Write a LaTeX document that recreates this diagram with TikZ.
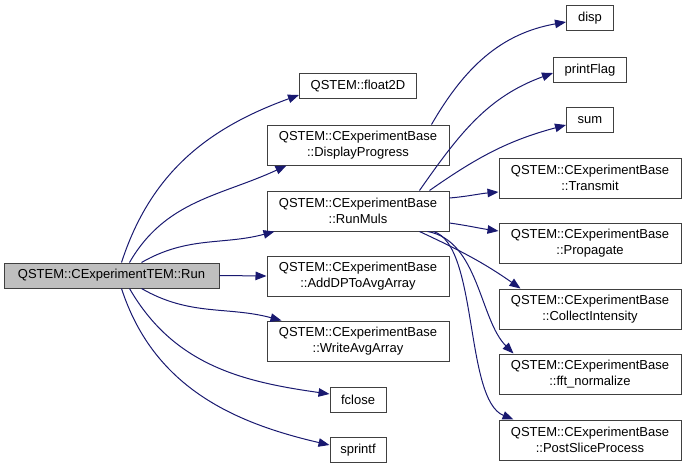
\documentclass[tikz,border=0pt]{standalone}
\usepackage{fontspec}
\setmainfont{Liberation Sans}
\usetikzlibrary{arrows.meta}
\definecolor{edgeblue}{HTML}{191970}
\definecolor{boxline}{HTML}{404040}
\definecolor{runfill}{HTML}{BFBFBF}
\tikzset{
  fn/.style={draw=boxline, line width=1pt, fill=white, inner sep=0pt, align=center,
    font=\fontsize{13}{15.5}\selectfont, minimum height=25pt},
  member/.style={fn, minimum width=182pt, minimum height=40pt},
  call/.style={draw=edgeblue, line width=1pt, -{Triangle[length=11pt,width=8.5pt]}}
}

\begin{document}
\begin{tikzpicture}[x=1pt,y=1pt]
    \useasboundingbox (0,0) rectangle (688,-469);
    % caller
    \node[fn, fill=runfill, minimum width=215pt] (run) at (111.5,-275.5) {QSTEM::CExperimentTEM::Run};
    %% direct callees
    \node[fn, minimum width=117pt] (float2d) at (358,-86) {QSTEM::float2D};
    \node[member] (dispprog) at (358,-145) {QSTEM::CExperimentBase\\::DisplayProgress};
    \node[member] (runmuls) at (358,-211) {QSTEM::CExperimentBase\\::RunMuls};
    \node[member] (adddp) at (358,-276) {QSTEM::CExperimentBase\\::AddDPToAvgArray};
    \node[member] (writeavg) at (358,-341) {QSTEM::CExperimentBase\\::WriteAvgArray};
    \node[fn, minimum width=56pt] (fclose) at (358,-400) {fclose};
    \node[fn, minimum width=56pt] (sprintf) at (358,-450) {sprintf};
    %% second level
    \node[fn, minimum width=47pt] (disp) at (590,-18) {disp};
    \node[fn, minimum width=73pt] (printflag) at (590,-70) {printFlag};
    \node[fn, minimum width=47pt] (sum) at (590,-120) {sum};
    \node[member] (transmit) at (590,-178) {QSTEM::CExperimentBase\\::Transmit};
    \node[member] (propagate) at (590,-243) {QSTEM::CExperimentBase\\::Propagate};
    \node[member] (collect) at (590,-309) {QSTEM::CExperimentBase\\::CollectIntensity};
    \node[member] (fftnorm) at (590,-374) {QSTEM::CExperimentBase\\::fft\_normalize};
    \node[member] (postslice) at (590,-440) {QSTEM::CExperimentBase\\::PostSliceProcess};
    %% calls from Run
    \draw[call] ([xshift=10pt]run.north) to[out=72,in=200] ([yshift=-9pt]float2d.west);
    \draw[call] ([xshift=18pt]run.north) to[out=60,in=205] ([xshift=20pt]dispprog.south west);
    \draw[call] ([xshift=30pt]run.north) to[out=30,in=195] ([xshift=8pt]runmuls.south west);
    \draw[call] (run.east) -- (adddp.west);
    \draw[call] ([xshift=30pt]run.south) to[out=-30,in=165] ([xshift=15pt]writeavg.north west);
    \draw[call] ([xshift=18pt]run.south) to[out=-60,in=172] ([yshift=6pt]fclose.west);
    \draw[call] ([xshift=10pt]run.south) to[out=-72,in=167] ([yshift=5pt]sprintf.west);
    %% calls from DisplayProgress and RunMuls
    \draw[call] ([xshift=-18pt]dispprog.north east) to[out=60,in=190] ([yshift=-4pt]disp.west);
    \draw[call] ([xshift=-30pt]runmuls.north east) to[out=55,in=200] ([yshift=-3pt]printflag.west);
    \draw[call] ([xshift=-20pt]runmuls.north east) to[out=35,in=195] ([yshift=-5pt]sum.west);
    \draw[call] ([yshift=13pt]runmuls.east) to[out=5,in=185] ([yshift=-14pt]transmit.west);
    \draw[call] ([yshift=-12pt]runmuls.east) to[out=-8,in=172] ([yshift=12pt]propagate.west);
    \draw[call] ([xshift=-30pt]runmuls.south east) to[out=-25,in=145] ([xshift=22pt]collect.north west);
    \draw[call] ([xshift=-22pt]runmuls.south east) to[out=-10,in=135,out distance=52pt,in distance=48pt] ([xshift=15pt]fftnorm.north west);
    \draw[call] ([xshift=-16pt]runmuls.south east) to[out=-17,in=158,out distance=47pt,in distance=53pt] ([xshift=15pt]postslice.north west);
\end{tikzpicture}
\end{document}
